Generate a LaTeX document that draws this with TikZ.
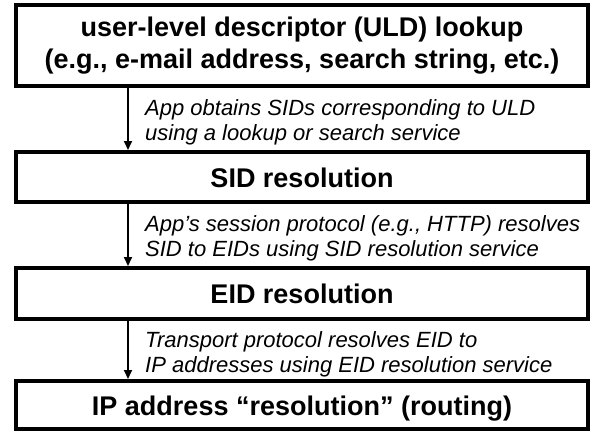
\documentclass[tikz,border=0pt]{standalone}
\usepackage{fontspec}
\setmainfont{Liberation Sans}
\usetikzlibrary{arrows.meta}
\begin{document}
\begin{tikzpicture}[x=1pt,y=-1pt,
  box/.style={draw=black,line width=4pt,fill=white,rectangle,inner sep=0pt,
    minimum width=572pt,align=center,font=\fontsize{27}{32}\selectfont\bfseries},
  lbl/.style={anchor=base west,align=left,inner sep=0pt,font=\fontsize{22}{25}\selectfont\itshape},
  arr/.style={line width=2pt,-{Triangle[length=9pt,width=8pt]}}]
\useasboundingbox (0,0) rectangle (592,432);
\node[box,minimum height=81pt] (b1) at (302,45.5) {user-level descriptor (ULD) lookup\\(e.g., e-mail address, search string, etc.)};
\node[box,minimum height=50pt,text height=20pt,text depth=0pt] (b2) at (302,177) {SID resolution};
\node[box,minimum height=51pt,text height=20pt,text depth=0pt] (b3) at (302,293.5) {EID resolution};
\node[box,minimum height=48pt,text height=20pt,text depth=0pt] (b4) at (302,405) {IP address “resolution” (routing)};
\coordinate (ax) at (128,0);
\draw[arr] (b1.south -| ax) -- (b2.north -| ax);
\draw[arr] (b2.south -| ax) -- (b3.north -| ax);
\draw[arr] (b3.south -| ax) -- (b4.north -| ax);
\node[lbl] (l1) at (145,140) {App obtains SIDs corresponding to ULD\\using a lookup or search service};
\node[lbl] (l2) at (145,256) {App’s session protocol (e.g., HTTP) resolves\\SID to EIDs using SID resolution service};
\node[lbl] (l3) at (145,372.5) {Transport protocol resolves EID to\\IP addresses using EID resolution service};
\end{tikzpicture}
\end{document}
